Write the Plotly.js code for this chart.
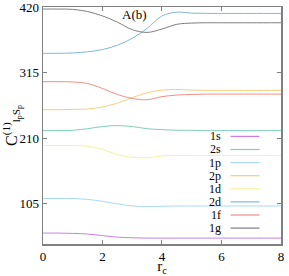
<!DOCTYPE html>
<html>
<head>
<meta charset="utf-8">
<script src="https://cdn.plot.ly/plotly-3.0.1.min.js"></script>
<style>html,body{margin:0;padding:0;background:#fff;}#chart{width:289px;height:276px;}</style>
</head>
<body>
<div id="chart"></div>
<script>
var rc = [0, 0.5, 1, 1.5, 2, 2.5, 3, 3.5, 4, 4.5, 5, 5.5, 6, 7, 8];
var s1 = [57.5, 57.5, 57, 56, 53.5, 51, 50, 49.5, 49.5, 49.5, 49.5, 49.5, 49.5, 49.5, 49.5];
var s2 = [222, 222, 222.5, 225, 228.5, 230, 228.5, 225, 223.5, 222.5, 222.5, 222, 222, 222, 222];
var p1 = [113, 113, 113, 111.5, 108.5, 104.5, 101, 100, 100.5, 101, 101, 101, 101, 101, 101];
var p2 = [255.5, 255.5, 256, 256.5, 260, 266, 275, 282.5, 287, 288, 287, 286.5, 286.5, 286.5, 286.5];
var d1 = [198, 198, 198, 197, 192, 183.5, 179, 178.5, 181.5, 182, 182, 182, 182, 182, 182];
var d2 = [346, 346, 346.5, 348.5, 352, 359, 370, 386, 406, 412, 410.5, 410, 410, 410, 410];
var f1 = [300.5, 300.5, 300, 297.5, 289.5, 280, 273.5, 271.5, 276.5, 279, 280, 280.5, 280.5, 280.5, 280.5];
var g1 = [417, 417, 416.5, 413, 406, 396, 384, 379.5, 385, 392.5, 394.5, 395, 395, 395, 395];
var seriesNames = ["1s", "2s", "1p", "2p", "1d", "2d", "1f", "1g"];
var seriesValues = [s1, s2, p1, p2, d1, d2, f1, g1];
var colors = ["#c97fe9", "#7fcfb9", "#aad9f4", "#f2cf7f", "#f7f1a0", "#7fb8d8", "#f28e87", "#7f7f7f"];
var yTicks = [105, 210, 315, 420];
var xTicks = [0, 2, 4, 6, 8];
var labelText = "A(b)";
var labelPos = [3.08, 409];

var font = "Times New Roman, Liberation Serif, serif";
var traces = seriesNames.map(function(n, i){
  return {x: rc, y: seriesValues[i], type: "scatter", mode: "lines", name: n,
    line: {color: colors[i], width: 1, shape: "spline", smoothing: 1}, showlegend: false};
});

var shapes = [], annotations = [];
var plotL = 43.3, plotR = 281.5, plotT = 7.3, plotB = 244.3;
var W = plotR - plotL, H = plotB - plotT;
seriesNames.forEach(function(n, i){
  var py = 136.7 + i * 13.1;
  var yp = (plotB - py) / H;
  shapes.push({type: "line", xref: "paper", yref: "paper",
    x0: (231 - plotL) / W, x1: (260 - plotL) / W, y0: yp, y1: yp,
    line: {color: colors[i], width: 1.2}});
  annotations.push({xref: "paper", yref: "paper", x: (223.5 - plotL) / W, y: yp,
    xanchor: "right", yanchor: "middle", text: n, showarrow: false,
    font: {family: font, size: 12, color: "#000"}});
});
annotations.push({x: labelPos[0], y: labelPos[1], xref: "x", yref: "y", text: labelText,
  showarrow: false, font: {family: font, size: 13, color: "#000"}, xanchor: "center", yanchor: "middle"});

var layout = {
  width: 289, height: 276,
  margin: {l: plotL, r: 289 - plotR, t: plotT, b: 276 - plotB, pad: 0},
  paper_bgcolor: "#fff", plot_bgcolor: "#fff",
  font: {family: font, size: 13, color: "#000"},
  xaxis: {range: [0, 8.001], tickvals: xTicks, ticks: "inside", ticklen: 4, tickcolor: "#808080",
    showgrid: false, zeroline: false, showline: true, linecolor: "#808080", linewidth: 1.5, mirror: "ticks",
    ticklabeloverflow: "allow",
    tickfont: {family: font, size: 13, color: "#000"},
    title: {text: "r<sub>c</sub>", font: {family: font, size: 15, color: "#000"}, standoff: 0}},
  yaxis: {range: [40, 420.3], tickvals: yTicks, ticks: "inside", ticklen: 4, tickcolor: "#808080",
    showgrid: false, zeroline: false, showline: true, linecolor: "#808080", linewidth: 1.5, mirror: "ticks",
    ticklabeloverflow: "allow",
    tickfont: {family: font, size: 13, color: "#000"},
    title: {text: "C<sup>(1)</sup><sub>l<sub>p</sub>S<sub>p</sub></sub>", font: {family: font, size: 16, color: "#000"}, standoff: 2}},
  shapes: shapes,
  annotations: annotations,
  showlegend: false
};
Plotly.newPlot("chart", traces, layout, {staticPlot: true, displayModeBar: false});
</script>
</body>
</html>
